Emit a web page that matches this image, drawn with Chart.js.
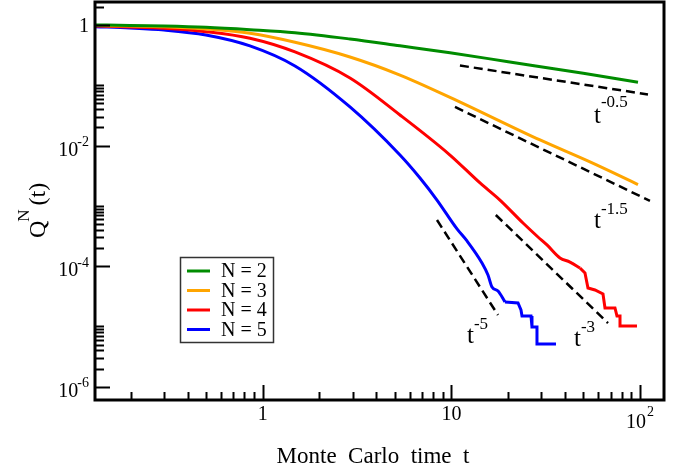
<!DOCTYPE html>
<html>
<head>
<meta charset="utf-8">
<script src="https://cdn.jsdelivr.net/npm/chart.js@4.4.1/dist/chart.umd.min.js"></script>
<style>
  html, body { margin: 0; padding: 0; background: #fff; }
  #wrap { width: 682px; height: 472px; }
</style>
</head>
<body>
<div id="wrap"><canvas id="chart" width="682" height="472"></canvas></div>
<script>
// Q^N(t) survival curves (log-log)
const tN2 = [0.13, 0.198, 0.30, 0.50, 0.856, 1.483, 2.901, 5.34, 9.831, 20, 50, 97.5];
const qN2 = [1.0, 0.985, 0.962, 0.916, 0.836, 0.745, 0.586, 0.452, 0.347, 0.246, 0.158, 0.112];

const tN3 = [0.13, 0.198, 0.30, 0.50, 0.856, 1.483, 2.901, 5.34, 9.831, 29.49, 54.26, 97.48];
const qN3 = [0.981, 0.962, 0.937, 0.858, 0.729, 0.517, 0.295, 0.148, 0.0632, 0.01239, 5.35e-3, 2.26e-3];

const tN4 = [0.13, 0.198, 0.30, 0.50, 0.856, 1.483, 2.901, 5.34, 9.831, 14.18, 18.09, 23.96, 28.77,
             32.11, 37.63, 42.50, 48.03, 51.05, 52.95, 57.68, 63.60, 65.17, 73.62, 75.44, 78.27, 78.27, 96.30];
const qN4 = [0.962, 0.927, 0.882, 0.774, 0.602, 0.357, 0.132, 0.0322, 6.98e-3, 2.40e-3, 1.25e-3, 5.20e-4, 3.05e-4,
             2.25e-4, 1.37e-4, 1.17e-4, 9.33e-5, 7.71e-5, 4.35e-5, 4.03e-5, 3.46e-5, 2.03e-5, 2.03e-5, 1.49e-5, 1.49e-5, 1.02e-5, 1.02e-5];

const tN5 = [0.13, 0.198, 0.30, 0.50, 0.856, 1.483, 2.901, 5.34, 6.818, 8.388, 10.71, 12.10, 14.53, 15.63,
             16.41, 17.66, 19.24, 22.54, 23.38, 23.67, 26.42, 26.74, 28.42, 28.42, 35.84];
const qN5 = [0.937, 0.892, 0.826, 0.683, 0.450, 0.209, 0.0437, 6.98e-3, 2.90e-3, 1.25e-3, 4.15e-4, 2.62e-4, 1.13e-4, 7.14e-5,
             4.52e-5, 3.88e-5, 2.55e-5, 2.45e-5, 1.88e-5, 1.49e-5, 1.49e-5, 9.81e-6, 9.81e-6, 5.13e-6, 5.13e-6];

// where the noisy / stepped tail begins (index into the arrays above)
const tailN4 = 16;
const tailN5 = 16;

// power-law guide lines (end points)
const tP05 = [11.10, 110.1];  const qP05 = [0.213, 0.0704];
const tP15 = [10.45, 112.8];  const qP15 = [0.0437, 1.21e-3];
const tP3  = [17.2, 67.6];    const qP3  = [7.06e-4, 1.14e-5];
const tP5  = [8.39, 17.66];   const qP5  = [5.84e-4, 1.55e-5];

const seriesLabels = ['N = 2', 'N = 3', 'N = 4', 'N = 5'];
const seriesColors = ['#008c00', '#ffa500', '#ff0000', '#0000ff'];

// axes
const xRange = [0.1292, 133.9];
const yRange = [6.04e-7, 2.406];
const xMajorTicks = [1, 10, 100];
const xTickLabels = ['1', '10', '10^2'];
const yMajorTicks = [1, 1e-2, 1e-4, 1e-6];
const yTickLabels = ['1', '10^-2', '10^-4', '10^-6'];
const xTitle = 'Monte  Carlo  time  t';

const FONT = '"Liberation Serif", "Times New Roman", serif';

function pts(t, q) {
    return t.map((x, i) => ({ x: x, y: q[i] }));
}

// smooth part of a curve
function curve(label, t, q, color) {
    return {
        label: label,
        data: pts(t, q),
        borderColor: color,
        borderWidth: 3,
        pointRadius: 0,
        fill: false,
        cubicInterpolationMode: 'monotone'
    };
}

// stepped tail, straight segments
function tail(label, t, q, color) {
    return {
        label: label,
        data: pts(t, q),
        borderColor: color,
        borderWidth: 3,
        pointRadius: 0,
        fill: false,
        tension: 0,
        borderJoinStyle: 'miter'
    };
}

function guide(t, q) {
    return {
        label: '',
        data: pts(t, q),
        borderColor: '#000',
        borderWidth: 2.5,
        borderDash: [9, 5],
        pointRadius: 0,
        fill: false
    };
}

// frame, inward ticks, labels, legend and exponent notes
const decorPlugin = {
    id: 'decor',
    afterDraw(chart) {
        const ctx = chart.ctx;
        const area = chart.chartArea;
        const xs = chart.scales.x;
        const ys = chart.scales.y;

        ctx.save();
        ctx.fillStyle = '#000';
        ctx.strokeStyle = '#000';

        // x ticks
        ctx.lineWidth = 2;
        for (let d = -1; d <= 2; d++) {
            for (let k = 1; k <= 9; k++) {
                const v = k * Math.pow(10, d);
                if (v < xRange[0] || v > xRange[1]) continue;
                const px = Math.round(xs.getPixelForValue(v)) + 0.5;
                const len = k === 1 ? 15 : 8;
                ctx.beginPath();
                ctx.moveTo(px, area.bottom);
                ctx.lineTo(px, area.bottom - len);
                ctx.stroke();
            }
        }
        // y ticks (minor ticks at 2..10 times each labelled value)
        yMajorTicks.forEach(m => {
            const py0 = Math.round(ys.getPixelForValue(m)) + 0.5;
            ctx.beginPath();
            ctx.moveTo(area.left, py0);
            ctx.lineTo(area.left + 15, py0);
            ctx.stroke();
            for (let k = 2; k <= 10; k++) {
                const v = k * m;
                if (v > yRange[1]) continue;
                const py = Math.round(ys.getPixelForValue(v)) + 0.5;
                ctx.beginPath();
                ctx.moveTo(area.left, py);
                ctx.lineTo(area.left + 9, py);
                ctx.stroke();
            }
        });

        // frame
        ctx.lineWidth = 3;
        ctx.strokeRect(area.left, area.top, area.right - area.left, area.bottom - area.top);

        // y tick labels
        ctx.textBaseline = 'middle';
        yMajorTicks.forEach((v, i) => {
            const py = ys.getPixelForValue(v);
            const parts = yTickLabels[i].split('^');
            const right = area.left - 6;
            if (parts.length === 1) {
                ctx.font = '20px ' + FONT;
                ctx.textAlign = 'right';
                ctx.fillText(parts[0], right, py + 1.5);
            } else {
                ctx.font = '14px ' + FONT;
                ctx.textAlign = 'right';
                const sw = ctx.measureText(parts[1]).width;
                ctx.fillText(parts[1], right, py - 3);
                ctx.font = '20px ' + FONT;
                ctx.fillText(parts[0], right - sw + 1, py + 5);
            }
        });

        // x tick labels
        xMajorTicks.forEach((v, i) => {
            const px = xs.getPixelForValue(v);
            const parts = xTickLabels[i].split('^');
            if (parts.length === 1) {
                ctx.font = '20px ' + FONT;
                ctx.textAlign = 'center';
                ctx.fillText(parts[0], px, 415);
            } else {
                ctx.font = '20px ' + FONT;
                ctx.textAlign = 'center';
                const bw = ctx.measureText(parts[0]).width;
                ctx.fillText(parts[0], px - 4, 422.5);
                ctx.font = '14px ' + FONT;
                ctx.textAlign = 'left';
                ctx.fillText(parts[1], px - 4 + bw / 2 + 1, 412);
            }
        });

        // axis titles
        ctx.textBaseline = 'alphabetic';
        ctx.font = '23px ' + FONT;
        ctx.textAlign = 'center';
        ctx.fillText(xTitle, 373, 463);

        ctx.save();
        ctx.translate(45, 238);
        ctx.rotate(-Math.PI / 2);
        ctx.textAlign = 'left';
        ctx.font = '24px ' + FONT;
        ctx.fillText('Q', 0, 0);
        let u = ctx.measureText('Q').width;
        ctx.font = '17px ' + FONT;
        ctx.fillText('N', u - 1, -16);
        u += ctx.measureText('N').width + 3;
        ctx.font = '24px ' + FONT;
        ctx.fillText('(t)', u, 0);
        ctx.restore();

        // exponent notes next to the guide lines
        const notes = [
            { exp: '-0.5', x: 594, y: 123, sy: 107 },
            { exp: '-1.5', x: 594, y: 228, sy: 214 },
            { exp: '-3',   x: 574, y: 346, sy: 332 },
            { exp: '-5',   x: 467, y: 343, sy: 329 }
        ];
        notes.forEach(n => {
            ctx.textAlign = 'left';
            ctx.font = '25px ' + FONT;
            ctx.fillText('t', n.x, n.y);
            const tw = ctx.measureText('t').width;
            ctx.font = '17px ' + FONT;
            ctx.fillText(n.exp, n.x + tw, n.sy);
        });

        // legend
        ctx.fillStyle = '#fff';
        ctx.fillRect(180, 257, 94, 86);
        ctx.strokeStyle = '#333';
        ctx.lineWidth = 1.5;
        ctx.strokeRect(180.5, 257.5, 93, 85);
        ctx.textBaseline = 'middle';
        ctx.font = '20px ' + FONT;
        ctx.textAlign = 'left';
        seriesLabels.forEach((lab, i) => {
            const y = 271 + i * 19.5;
            ctx.strokeStyle = seriesColors[i];
            ctx.lineWidth = 3;
            ctx.beginPath();
            ctx.moveTo(187, y);
            ctx.lineTo(210, y);
            ctx.stroke();
            ctx.fillStyle = '#000';
            ctx.fillText(lab, 221, y + 1);
        });

        ctx.restore();
    }
};

new Chart(document.getElementById('chart'), {
    type: 'line',
    data: {
        datasets: [
            guide(tP05, qP05),
            guide(tP15, qP15),
            guide(tP3, qP3),
            guide(tP5, qP5),
            curve(seriesLabels[0], tN2, qN2, seriesColors[0]),
            curve(seriesLabels[1], tN3, qN3, seriesColors[1]),
            curve(seriesLabels[2], tN4.slice(0, tailN4 + 1), qN4.slice(0, tailN4 + 1), seriesColors[2]),
            tail(seriesLabels[2], tN4.slice(tailN4), qN4.slice(tailN4), seriesColors[2]),
            curve(seriesLabels[3], tN5.slice(0, tailN5 + 1), qN5.slice(0, tailN5 + 1), seriesColors[3]),
            tail(seriesLabels[3], tN5.slice(tailN5), qN5.slice(tailN5), seriesColors[3])
        ]
    },
    options: {
        responsive: false,
        animation: false,
        devicePixelRatio: 1,
        layout: { padding: { left: 95, top: 2, right: 18, bottom: 72 } },
        plugins: {
            legend: { display: false },
            tooltip: { enabled: false }
        },
        scales: {
            x: { type: 'logarithmic', display: false, min: xRange[0], max: xRange[1] },
            y: { type: 'logarithmic', display: false, min: yRange[0], max: yRange[1] }
        }
    },
    plugins: [decorPlugin]
});
</script>
</body>
</html>
